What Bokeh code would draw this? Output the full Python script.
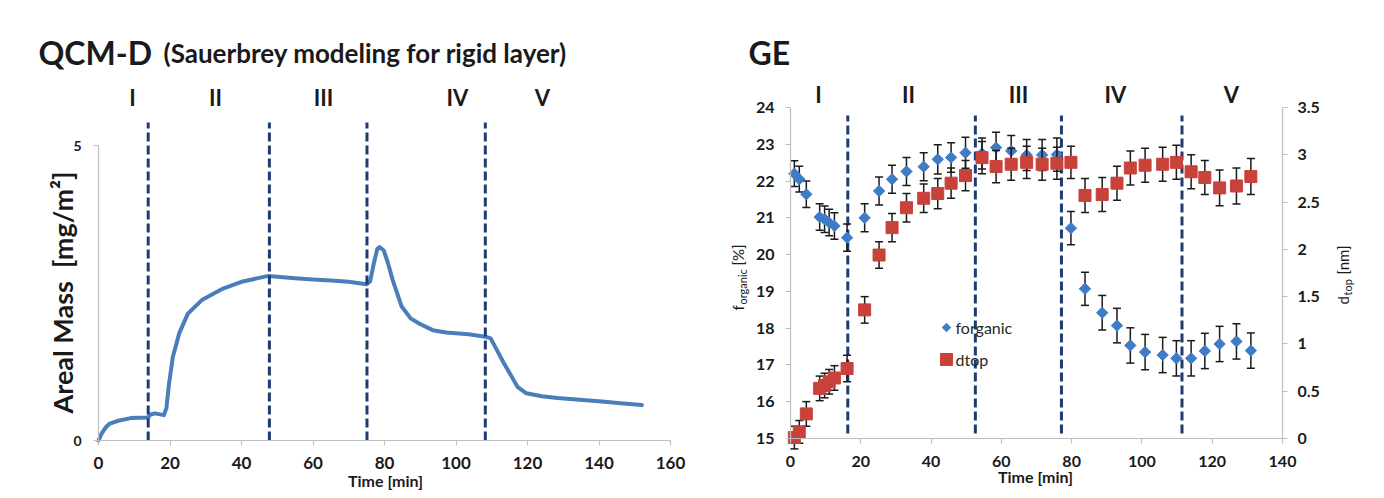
import math
from bokeh.plotting import figure
from bokeh.models import (Range1d, LinearAxis, FixedTicker, Label, ColumnDataSource,
                          NumeralTickFormatter)
from bokeh.layouts import row
from bokeh.embed import file_html
from bokeh.resources import INLINE

# ---------------- data: QCM-D (left) ----------------
qcm_time = [0, 0.9, 2.0, 3.0, 5.2, 9.0, 13.9, 14.5, 15.8, 18.3, 19.0, 19.7, 20.8, 22.6,
            25.0, 28.9, 35.0, 40.0, 47.5, 55.0, 60.0, 65.0, 70.0, 75.0, 76.0, 77.0,
            78.0, 78.6, 79.8, 81.0, 82.3, 84.8, 87.3, 89.8, 93.5, 97.3, 103.5, 108.2,
            109.7, 113.4, 117.2, 119.7, 124.0, 128.4, 134.6, 140.8, 146.0, 152.0]
qcm_mass = [0.0, 0.12, 0.22, 0.28, 0.33, 0.38, 0.39, 0.44, 0.46, 0.43, 0.55, 0.95, 1.42, 1.82,
            2.15, 2.38, 2.58, 2.69, 2.79, 2.75, 2.73, 2.71, 2.69, 2.65, 2.70, 3.00,
            3.25, 3.28, 3.22, 3.00, 2.72, 2.27, 2.07, 1.98, 1.87, 1.83, 1.80, 1.76,
            1.73, 1.31, 0.91, 0.80, 0.75, 0.72, 0.69, 0.66, 0.63, 0.60]
qcm_phase_bounds = [13.9, 47.8, 75.1, 108.2]
phase_names = ["I", "II", "III", "IV", "V"]
qcm_x_ticks = [0, 20, 40, 60, 80, 100, 120, 140, 160]
qcm_y_ticks = [0, 5]

# ---------------- data: GE (right) ----------------
ge_time = [1.1, 2.5, 4.5, 8.3, 9.7, 11.0, 12.5, 16.1, 21.1, 25.2, 28.9, 33.0, 37.9,
           41.9, 45.7, 49.8, 54.5, 58.5, 62.8, 67.2, 71.6, 75.8, 79.8, 83.8, 88.7,
           92.9, 96.7, 100.9, 105.9, 109.8, 114.0, 117.9, 122.1, 126.9, 131.0]
forganic = [22.20, 22.05, 21.64, 21.02, 20.96, 20.87, 20.78, 20.46, 21.00, 21.73, 22.05,
            22.26, 22.39, 22.59, 22.64, 22.77, 22.75, 22.91, 22.82, 22.71, 22.71, 22.72,
            20.72, 19.07, 18.42, 18.07, 17.53, 17.35, 17.27, 17.18, 17.18, 17.38, 17.57,
            17.64, 17.39]
forganic_err = [0.35, 0.35, 0.36, 0.36, 0.36, 0.36, 0.36, 0.37, 0.38, 0.38, 0.38, 0.38,
                0.38, 0.40, 0.40, 0.42, 0.42, 0.42, 0.42, 0.42, 0.42, 0.45, 0.45, 0.45,
                0.47, 0.47, 0.48, 0.48, 0.48, 0.48, 0.48, 0.48, 0.48, 0.48, 0.48]
dtop = [0.01, 0.07, 0.26, 0.53, 0.56, 0.60, 0.64, 0.74, 1.36, 1.94, 2.23, 2.44, 2.54,
        2.59, 2.70, 2.78, 2.97, 2.875, 2.90, 2.92, 2.90, 2.91, 2.92, 2.57, 2.58, 2.70,
        2.86, 2.89, 2.90, 2.92, 2.82, 2.76, 2.65, 2.67, 2.77]
dtop_err = [0.12, 0.12, 0.13, 0.13, 0.13, 0.13, 0.13, 0.14, 0.14, 0.14, 0.15, 0.15, 0.15,
            0.16, 0.16, 0.16, 0.17, 0.17, 0.17, 0.17, 0.17, 0.17, 0.17, 0.18, 0.18, 0.18,
            0.18, 0.18, 0.18, 0.18, 0.18, 0.18, 0.19, 0.19, 0.19]
ge_phase_bounds = [16.3, 52.6, 77.1, 111.4]
ge_x_ticks = [0, 20, 40, 60, 80, 100, 120, 140]
ge_f_ticks = [15, 16, 17, 18, 19, 20, 21, 22, 23, 24]
ge_d_ticks = [0, 0.5, 1, 1.5, 2, 2.5, 3, 3.5]

# ---------------- style ----------------
FONT = "Lato"
TXT = "#1a1a1a"
AXIS = "#bfbfbf"
LINE_BLUE = "#4a7ebb"
BLUE = "#3f7cc8"
RED = "#c9413b"
ERR = "#1a1a1a"
DASH = "#1f3b73"

# ---------------- layout (canvas pixels) ----------------
H = 490
W1 = 700
W2 = 676
# left chart plot box: x 0..160 -> px 98..670 ; y 0..5 -> px 440..145
L1_X0, L1_X1, L1_Y0, L1_Y1 = 98, 670, 440, 145
# right chart plot box: x 0..140 -> px 90..582 ; f 15..24 / d 0..3.5 -> px 438..107
R_X0, R_X1, R_Y0, R_Y1 = 90, 582, 438, 107


def span_x(v0, v1, p0, p1, size):
    k = (v1 - v0) / (p1 - p0)
    return v0 - p0 * k, v0 + (size - p0) * k


def span_y(v0, v1, p0, p1, size):
    # pixel measured from the top of the canvas
    k = (v1 - v0) / (p1 - p0)          # negative
    return v0 + (size - p0) * k, v0 - p0 * k


X1 = span_x(0, 160, L1_X0, L1_X1, W1)
Y1 = span_y(0, 5, L1_Y0, L1_Y1, H)
X2 = span_x(0, 140, R_X0, R_X1, W2)
Y2 = span_y(15, 24, R_Y0, R_Y1, H)
D2 = span_y(0, 3.5, R_Y0, R_Y1, H)


def to_data(px, py, xr, yr, W):
    x = xr[0] + px * (xr[1] - xr[0]) / W
    y = yr[1] - py * (yr[1] - yr[0]) / H
    return x, y


def pos1(px, py):
    return to_data(px, py, X1, Y1, W1)


def pos2(px, py):  # px in page coordinates
    return to_data(px - W1, py, X2, Y2, W2)


def add_label(p, xy, text, size, bold=True, align="center", baseline="middle", angle=0.0,
              color=TXT):
    p.add_layout(Label(x=xy[0], y=xy[1], text=text, text_font=FONT,
                       text_font_size=f"{size}px",
                       text_font_style="bold" if bold else "normal",
                       text_align=align, text_baseline=baseline, angle=angle,
                       text_color=color))


def style_axis(ax, size, standoff):
    ax.axis_line_color = AXIS
    ax.axis_line_width = 1.2
    ax.major_tick_line_color = AXIS
    ax.major_tick_line_width = 1.2
    ax.major_tick_out = 5
    ax.major_tick_in = 0
    ax.minor_tick_line_color = None
    ax.major_label_text_font = FONT
    ax.major_label_text_font_style = "bold"
    ax.major_label_text_font_size = f"{size}px"
    ax.major_label_text_color = TXT
    ax.major_label_standoff = standoff


def make_fig(w, xr, yr):
    p = figure(width=w, height=H, output_backend="svg", toolbar_location=None,
               x_range=Range1d(*xr), y_range=Range1d(*yr),
               x_axis_type=None, y_axis_type=None,
               min_border=0, min_border_left=0, min_border_right=0,
               min_border_top=0, min_border_bottom=0)
    p.outline_line_color = None
    p.background_fill_color = "white"
    p.border_fill_color = "white"
    return p


# ================= left figure =================
p1 = make_fig(W1, X1, Y1)

xa1 = LinearAxis(ticker=FixedTicker(ticks=qcm_x_ticks), fixed_location=0, bounds=(0, 160))
style_axis(xa1, 17, 11)
p1.add_layout(xa1, "below")
ya1 = LinearAxis(ticker=FixedTicker(ticks=qcm_y_ticks), fixed_location=0, bounds=(0, 5))
style_axis(ya1, 14, 12)
p1.add_layout(ya1, "left")

p1.line(qcm_time, qcm_mass, line_color=LINE_BLUE, line_width=4, line_join="round",
        line_cap="round")
top1 = pos1(0, 122)[1]
p1.segment(x0=qcm_phase_bounds, y0=[0] * 4, x1=qcm_phase_bounds,
           y1=[top1] * 4, line_color=DASH, line_width=3, line_dash="9 4")

add_label(p1, pos1(38, 52), "QCM-D", 32, baseline="alphabetic", align="left")
add_label(p1, pos1(163, 52), "(Sauerbrey modeling for rigid layer)", 26,
          baseline="alphabetic", align="left")
for name, px in zip(phase_names, [132, 215, 323, 457, 542]):
    add_label(p1, pos1(px, 97), name, 22)
add_label(p1, pos1(62, 292), "Areal Mass \u00a0[mg/m²]", 27, angle=math.pi / 2)
add_label(p1, pos1(385, 480), "Time [min]", 16)

# ================= right figure =================
p2 = make_fig(W2, X2, Y2)
p2.extra_y_ranges = {"d": Range1d(*D2)}

xa2 = LinearAxis(ticker=FixedTicker(ticks=ge_x_ticks), fixed_location=15, bounds=(0, 140))
style_axis(xa2, 16, 12)
p2.add_layout(xa2, "below")
ya2 = LinearAxis(ticker=FixedTicker(ticks=ge_f_ticks), fixed_location=0, bounds=(15, 24))
style_axis(ya2, 16, 11)
p2.add_layout(ya2, "left")
yd2 = LinearAxis(ticker=FixedTicker(ticks=ge_d_ticks), y_range_name="d",
                 fixed_location=140, bounds=(0, 3.5),
                 formatter=NumeralTickFormatter(format="0.[0]"))
style_axis(yd2, 16, 10)
p2.add_layout(yd2, "right")

src = ColumnDataSource(dict(
    t=ge_time,
    f=forganic,
    f_lo=[v - e for v, e in zip(forganic, forganic_err)],
    f_hi=[v + e for v, e in zip(forganic, forganic_err)],
    d=dtop,
    d_lo=[v - e for v, e in zip(dtop, dtop_err)],
    d_hi=[v + e for v, e in zip(dtop, dtop_err)],
))

# phase boundaries
yb0 = pos2(W1, 433)[1]
yb1 = pos2(W1, 115)[1]
p2.segment(x0=ge_phase_bounds, y0=[yb0] * 4, x1=ge_phase_bounds, y1=[yb1] * 4,
           line_color=DASH, line_width=3, line_dash="9 4")

# forganic error bars + markers
p2.segment("t", "f_lo", "t", "f_hi", source=src, line_color=ERR, line_width=1.5)
p2.scatter("t", "f_lo", source=src, marker="dash", size=8, line_color=ERR, line_width=1.5)
p2.scatter("t", "f_hi", source=src, marker="dash", size=8, line_color=ERR, line_width=1.5)
p2.scatter("t", "f", source=src, marker="square", angle=math.pi / 4, size=8,
           fill_color=BLUE, line_color=BLUE)

# dtop error bars + markers (right axis)
p2.segment("t", "d_lo", "t", "d_hi", source=src, line_color=ERR, line_width=1.5,
           y_range_name="d")
p2.scatter("t", "d_lo", source=src, marker="dash", size=8, line_color=ERR, line_width=1.5,
           y_range_name="d")
p2.scatter("t", "d_hi", source=src, marker="dash", size=8, line_color=ERR, line_width=1.5,
           y_range_name="d")
p2.scatter("t", "d", source=src, marker="square", size=12, fill_color=RED, line_color=RED,
           y_range_name="d")

# legend swatches and texts
lx, ly = pos2(946, 327)
p2.scatter([lx], [ly], marker="square", angle=math.pi / 4, size=6, fill_color=BLUE,
           line_color=BLUE)
lx, ly = pos2(946, 359)
p2.scatter([lx], [ly], marker="square", size=12, fill_color=RED, line_color=RED)
add_label(p2, pos2(955, 327), "forganic", 16, bold=False, align="left", color="#262626")
add_label(p2, pos2(955, 359), "dtop", 16, bold=False, align="left", color="#262626")

add_label(p2, pos2(748, 52), "GE", 32, baseline="alphabetic", align="left")
for name, px in zip(phase_names, [818, 908, 1018, 1115, 1231]):
    add_label(p2, pos2(px, 94), name, 22)
add_label(p2, pos2(1035, 476), "Time [min]", 16)

# axis titles with subscripts
add_label(p2, pos2(737, 310), "f", 15, bold=False, align="left", angle=math.pi / 2)
add_label(p2, pos2(742, 304), "organic", 11, bold=False, align="left", angle=math.pi / 2)
add_label(p2, pos2(737, 265), "[%]", 15, bold=False, align="left", angle=math.pi / 2)
add_label(p2, pos2(1342, 304), "d", 15, bold=False, align="left", angle=math.pi / 2)
add_label(p2, pos2(1347, 295), "top", 11, bold=False, align="left", angle=math.pi / 2)
add_label(p2, pos2(1342, 274), "[nm]", 15, bold=False, align="left", angle=math.pi / 2)

layout = row(p1, p2)
open("out.html", "w").write(file_html(layout, INLINE))
